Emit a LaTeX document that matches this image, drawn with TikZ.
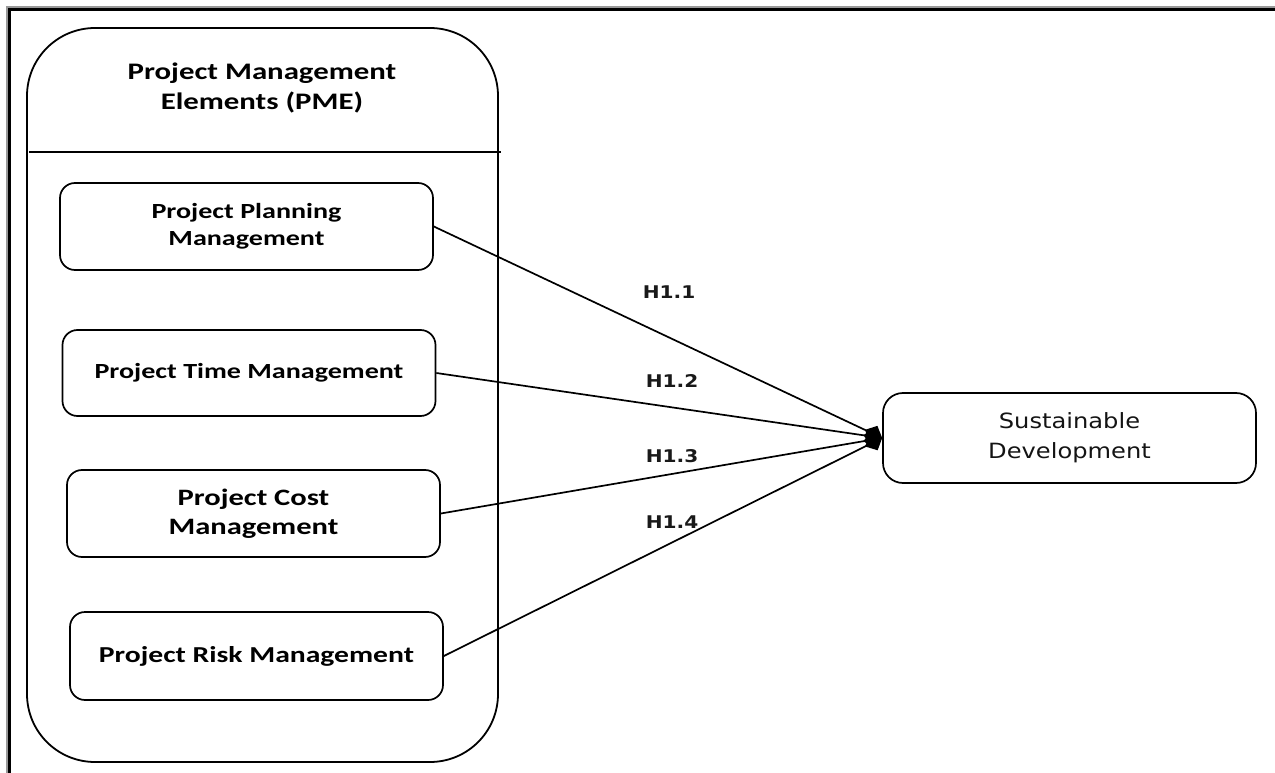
\documentclass[tikz,border=0pt]{standalone}
\usepackage{fontspec}
\newfontfamily\pmefont[FakeStretch=1.3]{Carlito}
\newfontfamily\sdfont[FakeStretch=1.15]{DejaVu Sans}
\usetikzlibrary{arrows.meta, positioning}

\begin{document}
\begin{tikzpicture}[x=1pt, y=-1pt,
  elem/.style={draw, line width=1.7pt, rounded corners=15pt, minimum width=373pt,
    minimum height=87pt, align=center, inner sep=0pt},
  hyp/.style={font=\sdfont\bfseries\fontsize{17.5pt}{20pt}\selectfont, text=black!90},
  link/.style={line width=1.7pt, -{Diamond[length=19pt, width=18pt]}}]
\useasboundingbox (0,0) rectangle (1275,773);

% page frame
\draw[line width=2pt, black!40] (1280,7) -- (7,7) -- (7,780);
\draw[line width=2.5pt] (1280,9.5) -- (9.5,9.5) -- (9.5,780);

% PME container
\draw[line width=1.8pt, rounded corners=68pt] (27,28) rectangle (498,762);
\draw[line width=1.8pt] (29,152) -- (501,152);
\node (pme) at (262,88) [font=\pmefont\bfseries\fontsize{23.7pt}{30pt}\selectfont, align=center]
  {Project Management\\Elements (PME)};

% elements
\node (plan) at (246.5,226.5) [elem, font=\pmefont\bfseries\fontsize{21.6pt}{27pt}\selectfont]
  {Project Planning\\Management};
\node (time) at (249,373) [elem, minimum height=86pt, font=\pmefont\bfseries\fontsize{21.6pt}{27pt}\selectfont]
  {Project Time Management};
\node (cost) at (253.5,513.5) [elem, font=\pmefont\bfseries\fontsize{23.5pt}{29pt}\selectfont]
  {Project Cost\\Management};
\node (risk) at (256.5,656) [elem, minimum height=88pt, font=\pmefont\bfseries\fontsize{22.8pt}{28pt}\selectfont]
  {Project Risk Management};

% outcome
\node (sd) at (1069.5,438) [elem, minimum height=90pt, rounded corners=20pt,
  font=\sdfont\fontsize{21pt}{30pt}\selectfont, text=black!92]
  {Sustainable\\Development};

% hypotheses
\foreach \src in {plan, time, cost, risk}
  \draw[link] (\src.east) -- (sd.west);
\node (h11) at (669,292) [hyp] {H1.1};
\node (h12) at (672,381) [hyp] {H1.2};
\node (h13) at (672,456) [hyp] {H1.3};
\node (h14) at (672,522) [hyp] {H1.4};
\end{tikzpicture}
\end{document}
